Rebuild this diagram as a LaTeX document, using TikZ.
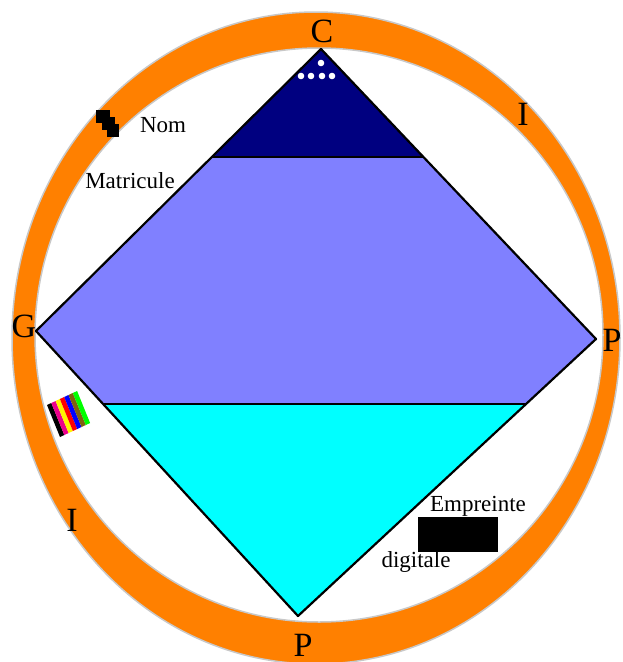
\documentclass[tikz,border=0pt]{standalone}
\usepackage{fontspec}
\setmainfont{Liberation Serif}
\usepackage{xcolor}
\usepackage{tikz}
\definecolor{CardOrange}{RGB}{255,128,0}
\definecolor{CardRim}{RGB}{200,200,200}
\definecolor{CardNavy}{RGB}{0,0,128}
\definecolor{CardLavender}{RGB}{128,128,255}
\definecolor{CardCyan}{RGB}{0,255,255}
\definecolor{CardOlive}{RGB}{128,96,16}

\tikzset{
  cardletter/.style={inner sep=0pt, font=\fontsize{34}{36}\selectfont},
  cardlabel/.style={inner sep=0pt, font=\fontsize{23}{25}\selectfont},
  cardedge/.style={black, line width=2.2pt, line join=round}
}

\begin{document}
\begin{tikzpicture}[x=1pt,y=-1pt]
  \path[use as bounding box] (0,0) rectangle (622,662);
  \clip (0,0) rectangle (622,662);
  \fill[white] (0,0) rectangle (622,662);

  % orange ring
  \fill[CardOrange, even odd rule] (316,338) ellipse [x radius=304, y radius=326]
                                   (319,335) ellipse [x radius=284, y radius=287];
  \draw[CardRim, line width=1.5pt] (316,338) ellipse [x radius=304, y radius=326];
  \draw[CardRim, line width=1.5pt] (319,335) ellipse [x radius=284, y radius=287];

  % diamond
  \coordinate (apex)  at (321,49);
  \coordinate (left)  at (36,331);
  \coordinate (right) at (596,339);
  \coordinate (foot)  at (298,616);
  \begin{scope}
    \clip (apex) -- (right) -- (foot) -- (left) -- cycle;
    \fill[CardLavender] (0,0) rectangle (622,662);
    \fill[CardNavy] (0,0) rectangle (622,157);
    \fill[CardCyan] (0,404) rectangle (622,662);
    \draw[cardedge] (0,157) -- (622,157);
    \draw[cardedge] (0,404) -- (622,404);
  \end{scope}
  \draw[cardedge] (apex) -- (right) -- (foot) -- (left) -- cycle;

  % dots under the apex
  \foreach \p in {(321,63),(301,76),(311,76),(322,76),(332,76)}
    \fill[white] \p circle [radius=3.3];

  % ring letters
  \node[cardletter] (c)  at (322,31)  {C};
  \node[cardletter] (i1) at (523,114) {I};
  \node[cardletter] (g)  at (24,326)  {G};
  \node[cardletter] (p1) at (612,340) {P};
  \node[cardletter] (i2) at (72,520)  {I};
  \node[cardletter] (p2) at (303,645) {P};

  % name mark
  \fill[black] (96,110) rectangle (110,123);
  \fill[black] (102,117) rectangle (115,130);
  \fill[black] (107,124) rectangle (119,137);
  \node[cardlabel] (nom) at (163,125) {Nom};
  \node[cardlabel] (mat) at (130,181) {Matricule};

  % colour strip
  \foreach \col [count=\i from 0] in {black,magenta,yellow,red,blue,CardOlive,green}
    \fill[\col] (47+4.3*\i,405-2*\i) -- ++(4.3,-2) -- ++(13,32) -- ++(-4.3,2) -- cycle;

  % fingerprint box
  \fill[black] (418,517) rectangle (498,552);
  \node[cardlabel] (emp) at (478,506) {Empreinte};
  \node[cardlabel] (dig) at (416,562) {digitale};
\end{tikzpicture}
\end{document}
